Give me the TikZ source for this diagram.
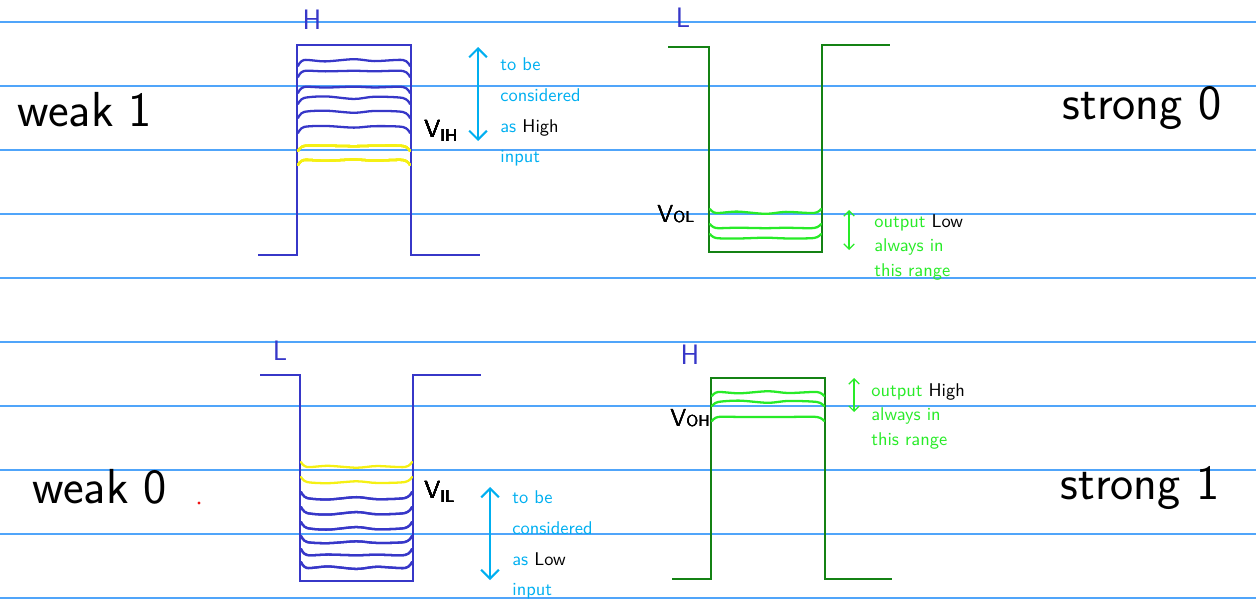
\documentclass[tikz,border=0pt]{standalone}
\usepackage{tikz}
\usetikzlibrary{arrows.meta,positioning,calc}
\definecolor{myRule}{RGB}{80,165,250}
\definecolor{myBlue}{RGB}{55,55,200}
\definecolor{myGreen}{RGB}{20,130,20}
\definecolor{myLime}{RGB}{40,235,40}
\definecolor{myYellow}{RGB}{245,240,20}
\definecolor{myCyan}{RGB}{0,175,240}
\definecolor{myDot}{RGB}{240,20,20}
% wobbly level line: style, y, left x, right x, wobble, end drop
\newcommand{\sigwave}[6]{%
  \draw[#1] plot[smooth, tension=0.5] coordinates {
    (#3+1,#2+#6) (#3+7,#2) ({#3+0.25*(#4-#3)},{#2-#5}) ({#3+0.5*(#4-#3)},{#2+0.6*#5})
    ({#3+0.68*(#4-#3)},{#2-0.8*#5}) (#4-8,#2) (#4-1,#2+#6)};}

\begin{document}
\begin{tikzpicture}[x=0.02cm, y=-0.02cm, >={Straight Barb[length=5pt]}, font=\sffamily]
\tikzstyle{rule}=[myRule, line width=1pt]
\tikzstyle{sig}=[line width=1.4pt, line join=miter]
\tikzstyle{lvl}=[line width=1.3pt, line cap=round]
\tikzstyle{rng}=[<->, line width=1.2pt]
\tikzstyle{big}=[font=\sffamily\fontsize{28}{30}\selectfont, inner sep=0pt]
\tikzstyle{lvlname}=[font=\sffamily\fontsize{16}{18}\selectfont, myBlue, inner sep=0pt]
\tikzstyle{volt}=[font=\sffamily\fontsize{14}{16}\selectfont, inner sep=0pt]
\tikzstyle{note}=[anchor=north west, align=left, inner sep=0pt]
\useasboundingbox (0,0) rectangle (1256,612);
% ruled paper
\foreach \y in {22,86,...,598}
  \draw[rule] (0,\y) -- (1256,\y);

% ---------- weak 1 : input high ----------
\node[big] (weakOne) at (85,110) {weak 1};
\node[lvlname] (hIn) at (312,20) {H};
\draw[sig, myBlue] (258,255) -- (297,255) -- (297,45) -- (411,45) -- (411,255) -- (480,255);
\foreach \y in {60,71,87,98,112,127}
  \sigwave{lvl, myBlue}{\y}{297}{411}{1.6*sin(\y*23)}{6}
\foreach \y in {146,160}
  \sigwave{lvl, myYellow}{\y}{297}{411}{1.2*sin(\y*11)}{5}
\node[volt, anchor=west] (vih) at (424,131) {V\textsubscript{IH}};
\coordinate (ihTop) at (478,47);
\coordinate (ihBot) at (478,141);
\draw[rng, myCyan] (ihTop) -- (ihBot);
\node[note, myCyan, font=\sffamily\fontsize{10.5}{17.6}\selectfont] (ihTxt) at (500,57)
  {to be\\considered\\as {\color{black}High}\\input};

% ---------- strong 0 : output low ----------
\node[big] (strongZero) at (1142,108) {strong 0};
\node[lvlname] (lOut) at (683,18) {L};
\draw[sig, myGreen] (668,47) -- (709,47) -- (709,252) -- (822,252) -- (822,45) -- (890,45);
\foreach \y in {213,228,238}
  \sigwave{lvl, myLime}{\y}{709}{822}{1.4*sin(\y*19)}{-4}
\node[volt, anchor=west] (vol) at (657,214) {V{\small OL}};
\coordinate (olTop) at (849,210);
\coordinate (olBot) at (849,250);
\draw[<->, myLime, line width=0.7pt, >={Straight Barb[length=3pt]}] (olTop) -- (olBot);
\node[note, myLime, font=\sffamily\fontsize{10.5}{14}\selectfont] (olTxt) at (874,214)
  {output {\color{black}Low}\\always in\\this range};

% ---------- weak 0 : input low ----------
\node[big] (weakZero) at (100,487) {weak 0};
\fill[myDot] (199,503) circle (1.6);
\node[lvlname] (lIn) at (280,351) {L};
\draw[sig, myBlue] (260,375) -- (300,375) -- (300,581) -- (413,581) -- (413,375) -- (481,375);
\foreach \y in {467,482}
  \sigwave{lvl, myYellow}{\y}{300}{413}{1.2*sin(\y*11)}{-5}
\foreach \y in {498,513,528,542,555,568}
  \sigwave{lvl, myBlue}{\y}{300}{413}{1.6*sin(\y*23)}{-6}
\node[volt, anchor=west] (vil) at (424,492) {V\textsubscript{IL}};
\coordinate (ilTop) at (490,487);
\coordinate (ilBot) at (490,580);
\draw[rng, myCyan] (ilTop) -- (ilBot);
\node[note, myCyan, font=\sffamily\fontsize{10.5}{17.6}\selectfont] (ilTxt) at (512,490)
  {to be\\considered\\as {\color{black}Low}\\input};

% ---------- strong 1 : output high ----------
\node[big] (strongOne) at (1140,488) {strong 1};
\node[lvlname] (hOut) at (690,355) {H};
\draw[sig, myGreen] (672,579) -- (711,579) -- (711,378) -- (825,378) -- (825,579) -- (892,579);
\foreach \y in {392,402,417}
  \sigwave{lvl, myLime}{\y}{711}{825}{1.4*sin(\y*19)}{4}
\node[volt, anchor=west] (voh) at (670,418) {V{\small OH}};
\coordinate (ohTop) at (854,378);
\coordinate (ohBot) at (854,412);
\draw[<->, myLime, line width=0.7pt, >={Straight Barb[length=3pt]}] (ohTop) -- (ohBot);
\node[note, myLime, font=\sffamily\fontsize{10.5}{14}\selectfont] (ohTxt) at (871,383)
  {output {\color{black}High}\\always in\\this range};
\end{tikzpicture}
\end{document}
